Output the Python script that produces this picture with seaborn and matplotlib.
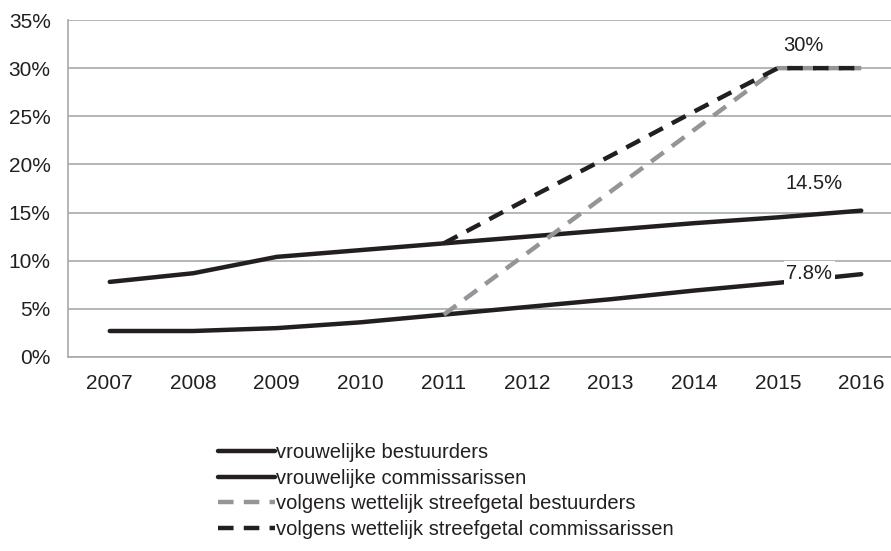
import pandas as pd
import seaborn as sns
import matplotlib.pyplot as plt

jaren = ['2007', '2008', '2009', '2010', '2011', '2012', '2013', '2014', '2015', '2016']
bestuurders = [7.8, 8.7, 10.4, 11.1, 11.8, 12.5, 13.2, 13.9, 14.5, 15.2]
commissarissen = [2.7, 2.7, 3.0, 3.6, 4.4, 5.2, 6.0, 6.9, 7.7, 8.6]
streef_jaren = ['2011', '2012', '2013', '2014', '2015', '2016']
streef_bestuurders = [4.4, 10.8, 17.2, 23.6, 30.0, 30.0]
streef_commissarissen = [11.8, 16.4, 20.9, 25.5, 30.0, 30.0]

tekstkleur = '#231f20'
sns.set_style('white')
plt.rcParams['font.family'] = ['Liberation Sans', 'DejaVu Sans']

fig = plt.figure(figsize=(8.91, 5.51), dpi=100)
ax = fig.add_axes([68 / 891, 1 - 357 / 551, 835 / 891, 337 / 551])

x_pos = {j: i for i, j in enumerate(jaren)}
df1 = pd.DataFrame({'x': [x_pos[j] for j in jaren], 'y': bestuurders})
df2 = pd.DataFrame({'x': [x_pos[j] for j in jaren], 'y': commissarissen})
df3 = pd.DataFrame({'x': [x_pos[j] for j in streef_jaren], 'y': streef_bestuurders})
df4 = pd.DataFrame({'x': [x_pos[j] for j in streef_jaren], 'y': streef_commissarissen})

sns.lineplot(data=df1, x='x', y='y', ax=ax, color='#231f20', lw=3.2,
             label='vrouwelijke bestuurders', zorder=3)
sns.lineplot(data=df2, x='x', y='y', ax=ax, color='#231f20', lw=3.2,
             label='vrouwelijke commissarissen', zorder=3)
sns.lineplot(data=df3, x='x', y='y', ax=ax, color='#939598', lw=3.2,
             label='volgens wettelijk streefgetal bestuurders', zorder=3)
sns.lineplot(data=df4, x='x', y='y', ax=ax, color='#231f20', lw=3.2,
             label='volgens wettelijk streefgetal commissarissen', zorder=4)
ax.lines[2].set_dashes([3.5, 2.3])
ax.lines[3].set_dashes([3.5, 2.3])

ax.set_xlim(-0.5, 9.5)
ax.set_ylim(0, 35)
ax.set_xticks(range(len(jaren)))
ax.set_xticklabels(jaren)
ax.set_yticks(range(0, 36, 5))
ax.set_yticklabels([f'{v}%' for v in range(0, 36, 5)])
ax.tick_params(axis='both', length=0, labelsize=15, colors=tekstkleur)
ax.tick_params(axis='x', pad=12.5)
ax.tick_params(axis='y', pad=12.5)
ax.set_xlabel('')
ax.set_ylabel('')
ax.grid(axis='y', color='#a7a9ac', lw=1.2)
ax.set_axisbelow(True)
for kant in ['top', 'right']:
    ax.spines[kant].set_visible(False)
for kant in ['left', 'bottom']:
    ax.spines[kant].set_color('#a7a9ac')
    ax.spines[kant].set_linewidth(1.2)

ax.text(8.31, 32.3, '30%', ha='center', va='center', fontsize=14.5, color=tekstkleur)
ax.text(8.43, 18.0, '14.5%', ha='center', va='center', fontsize=14.5, color=tekstkleur)
ax.text(8.38, 8.65, '7.8%', ha='center', va='center', fontsize=14.5, color=tekstkleur,
        bbox=dict(facecolor='white', edgecolor='none', pad=2), zorder=5)

leg = fig.legend(handles=ax.lines[:4], loc='upper left', bbox_to_anchor=(218 / 891, 1 - 443 / 551),
                 frameon=False, fontsize=14.5, handlelength=2.85, handletextpad=0.05,
                 labelspacing=0.33, borderaxespad=0, borderpad=0)
ax.get_legend().remove()
for t in leg.get_texts():
    t.set_color(tekstkleur)

fig.savefig('out.png', dpi=100)
